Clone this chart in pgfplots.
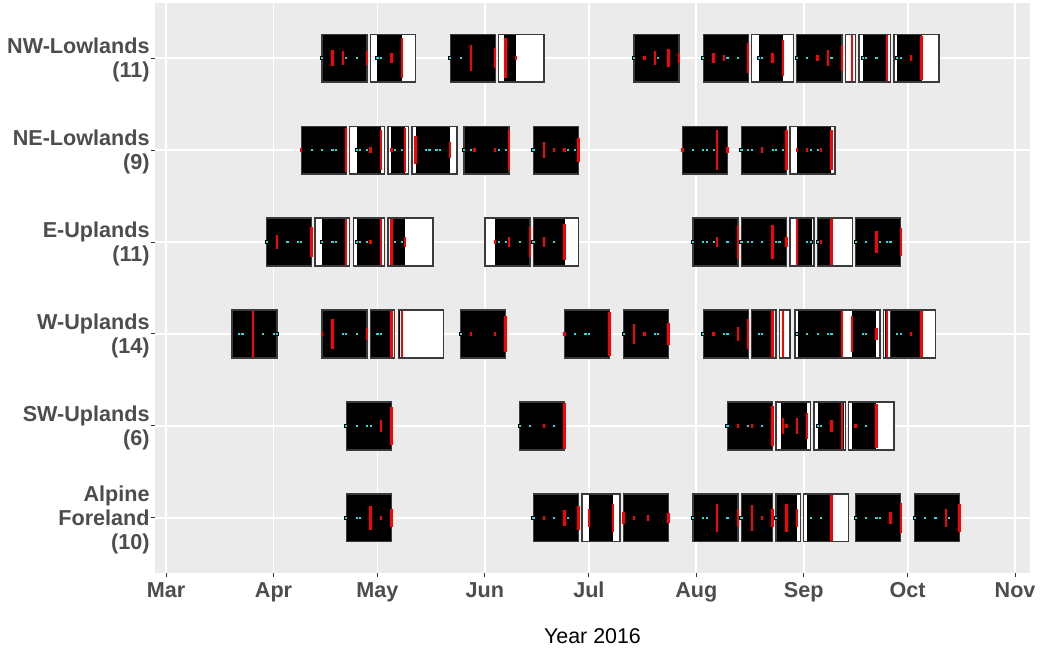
\documentclass[border=0pt]{standalone}
\usepackage{pgfplots}
\pgfplotsset{compat=1.18}
\usepackage{pgfplotstable}
\usepackage{fontspec}
\setmainfont{Liberation Sans}

\definecolor{panel}{HTML}{EBEBEB}
\definecolor{ticktext}{HTML}{4D4D4D}
\definecolor{tickmark}{HTML}{333333}
\definecolor{boxedge}{HTML}{3A3A3A}
\definecolor{dotcyan}{HTML}{19E0E0}

% x = days after 1 March 2016, y = region row (1 = Alpine Foreland ... 6 = NW-Lowlands)
% red events: e = half height of the bar
\pgfplotstableread{
x y e
48 6 0.085
51 6 0.075
58 6 0.075
65 6 0.055
68 6 0.22
88 6 0.14
95 6 0.11
98 6 0.22
101 6 0.025
138 6 0.025
141 6 0.075
145 6 0.1
148 6 0.055
158 6 0.055
161 6 0.035
168 6 0.165
175 6 0.055
178 6 0.195
188 6 0.035
191 6 0.085
195 6 0.14
198 6 0.25
208 6 0.25
215 6 0.035
218 6 0.24
39 5 0.025
52 5 0.24
59 5 0.035
62 5 0.22
65 5 0.025
69 5 0.24
72 5 0.15
82 5 0.085
89 5 0.025
95 5 0.025
99 5 0.22
109 5 0.085
112 5 0.025
115 5 0.025
119 5 0.13
149 5 0.025
159 5 0.22
162 5 0.035
172 5 0.035
179 5 0.22
182 5 0.025
185 5 0.025
189 5 0.025
192 5 0.22
32 4 0.075
42 4 0.165
52 4 0.25
59 4 0.025
62 4 0.25
65 4 0.25
69 4 0.055
95 4 0.025
99 4 0.055
105 4 0.165
109 4 0.055
115 4 0.195
159 4 0.055
165 4 0.185
175 4 0.185
179 4 0.055
182 4 0.25
189 4 0.025
192 4 0.25
205 4 0.12
212 4 0.15
25 3 0.25
45 3 0.025
48 3 0.165
58 3 0.065
65 3 0.25
68 3 0.25
88 3 0.025
95 3 0.025
98 3 0.195
115 3 0.025
128 3 0.24
135 3 0.11
138 3 0.025
145 3 0.12
158 3 0.025
165 3 0.075
168 3 0.165
175 3 0.25
178 3 0.25
195 3 0.25
198 3 0.195
205 3 0.065
208 3 0.25
215 3 0.025
218 3 0.25
62 2 0.065
65 2 0.205
109 2 0.025
115 2 0.25
165 2 0.025
169 2 0.025
175 2 0.22
178 2 0.085
179 2 0.025
182 2 0.085
185 2 0.14
192 2 0.065
195 2 0.25
199 2 0.025
205 2 0.24
59 1 0.13
62 1 0.025
65 1 0.1
109 1 0.025
115 1 0.085
119 1 0.13
122 1 0.1
129 1 0.15
132 1 0.065
135 1 0.025
139 1 0.035
145 1 0.055
159 1 0.15
165 1 0.1
169 1 0.14
172 1 0.025
175 1 0.1
179 1 0.15
182 1 0.1
192 1 0.25
209 1 0.065
212 1 0.165
225 1 0.1
229 1 0.15
}\redmarks

% cyan observation days on each row
\pgfplotstableread{
x y
45 6
52 6
55 6
61 6
62 6
82 6
85 6
135 6
142 6
155 6
162 6
165 6
171 6
172 6
182 6
185 6
192 6
201 6
202 6
205 6
211 6
212 6
42 5
45 5
48 5
49 5
55 5
56 5
58 5
66 5
68 5
75 5
76 5
78 5
79 5
86 5
88 5
96 5
98 5
106 5
116 5
118 5
152 5
155 5
156 5
158 5
166 5
168 5
169 5
175 5
176 5
178 5
186 5
188 5
29 4
35 4
38 4
39 4
45 4
48 4
49 4
55 4
56 4
58 4
66 4
68 4
96 4
98 4
102 4
106 4
112 4
152 4
155 4
156 4
158 4
162 4
166 4
168 4
169 4
172 4
176 4
177 4
185 4
186 4
188 4
199 4
202 4
206 4
208 4
209 4
21 3
22 3
28 3
31 3
32 3
51 3
52 3
55 3
61 3
62 3
85 3
118 3
121 3
122 3
132 3
141 3
142 3
155 3
161 3
162 3
171 3
172 3
182 3
185 3
188 3
191 3
192 3
201 3
202 3
211 3
212 3
52 2
55 2
58 2
59 2
102 2
105 2
112 2
162 2
168 2
172 2
188 2
189 2
202 2
52 1
55 1
56 1
106 1
112 1
116 1
152 1
155 1
156 1
162 1
166 1
176 1
186 1
189 1
199 1
202 1
205 1
206 1
216 1
219 1
222 1
226 1
}\cyandots

% one window: row, window start, window end, covered start, covered end
\newcommand\win[5]{%
  \pgfmathsetmacro\wlo{#1-0.26}%
  \pgfmathsetmacro\whi{#1+0.26}%
  \edef\wtmp{%
    \noexpand\addplot[fill=white, draw=none, forget plot]
      coordinates {(#2,\wlo) (#3,\wlo) (#3,\whi) (#2,\whi)} -- cycle;
    \noexpand\addplot[fill=black, draw=none, forget plot]
      coordinates {(#4,\wlo) (#5,\wlo) (#5,\whi) (#4,\whi)} -- cycle;
    \noexpand\addplot[draw=boxedge, line width=0.7pt, forget plot]
      coordinates {(#2,\wlo) (#3,\wlo) (#3,\whi) (#2,\whi)} -- cycle;
  }\wtmp}

\begin{document}
\begin{tikzpicture}
\useasboundingbox (-77.5pt,-38.5pt) rectangle (443pt,286.5pt);
\begin{axis}[
  at={(0,0)}, anchor=south west,
  scale only axis, width=437.5pt, height=285pt,
  xmin=-3.2, xmax=249.3, ymin=0.4, ymax=6.6,
  axis background/.style={fill=panel},
  axis line style={draw=none},
  xtick={0,31,61,92,122,153,184,214,245},
  xticklabels={Mar,Apr,May,Jun,Jul,Aug,Sep,Oct,Nov},
  minor x tick num=1,
  ytick={1,2,3,4,5,6},
  yticklabels={{Alpine\\Foreland\\(10)},{SW-Uplands\\(6)},{W-Uplands\\(14)},{E-Uplands\\(11)},{NE-Lowlands\\(9)},{NW-Lowlands\\(11)}},
  ticklabel style={font=\bfseries\fontsize{10.8}{12}\selectfont, text=ticktext},
  yticklabel style={align=right, inner sep=0.5pt, yshift=-0.75pt},
  xticklabel style={inner sep=1.5pt},
  typeset ticklabels with strut,
  xtick pos=left, ytick pos=left,
  tick align=outside,
  major tick length=2pt, minor tick length=0pt,
  tick style={tickmark, line width=0.5pt},
  xmajorgrids, xminorgrids, ymajorgrids,
  major grid style={white, line width=0.9pt},
  minor grid style={white, line width=0.45pt},
  xlabel={Year 2016},
  xlabel style={at={(axis description cs:0.5,0)}, anchor=center, yshift=-31.5pt,
    font=\fontsize{10.7}{12}\selectfont, text=black},
]
% NW-Lowlands
\win{6}{45}{58}{45}{58}
\win{6}{59}{72}{61}{68}
\win{6}{82}{95}{82}{95}
\win{6}{96}{109}{97.5}{101}
\win{6}{135}{148}{135}{148}
\win{6}{155}{168}{155}{168}
\win{6}{169}{181}{171}{178}
\win{6}{182}{195}{182}{195}
\win{6}{196}{199}{197.6}{198}
\win{6}{200}{209}{201}{208}
\win{6}{210}{223}{211}{218}
% NE-Lowlands
\win{5}{39}{52}{39}{52}
\win{5}{53}{63}{55}{62}
\win{5}{64}{70}{64.8}{69}
\win{5}{71}{84}{72}{82}
\win{5}{86}{99}{86}{99}
\win{5}{106}{119}{106}{119}
\win{5}{149}{162}{149}{162}
\win{5}{166}{179}{166}{179}
\win{5}{180}{193}{182}{192}
% E-Uplands
\win{4}{29}{42}{29}{42}
\win{4}{43}{53}{45}{52}
\win{4}{54}{63}{55}{62}
\win{4}{64}{77}{64.6}{69}
\win{4}{92}{105}{95}{105}
\win{4}{106}{119}{106}{115}
\win{4}{152}{165}{152}{165}
\win{4}{166}{179}{166}{179}
\win{4}{180}{187}{182.4}{186.3}
\win{4}{188}{198}{188}{192}
\win{4}{199}{212}{199}{212}
% W-Uplands
\win{3}{19}{32}{19}{32}
\win{3}{45}{58}{45}{58}
\win{3}{59}{66}{59}{65}
\win{3}{67}{80}{67}{67.5}
\win{3}{85}{98}{85}{98}
\win{3}{115}{128}{115}{128}
\win{3}{132}{145}{132}{145}
\win{3}{155}{168}{155}{168}
\win{3}{169}{176}{169}{175}
\win{3}{177}{180}{177.6}{178}
\win{3}{181.5}{195}{182.3}{195}
\win{3}{195}{206}{198}{205}
\win{3}{207}{209}{207.5}{208}
\win{3}{209}{222}{209}{218}
% SW-Uplands
\win{2}{52}{65}{52}{65}
\win{2}{102}{115}{102}{115}
\win{2}{162}{175}{162}{175}
\win{2}{176}{186}{177.5}{185}
\win{2}{187}{196}{188}{195.5}
\win{2}{197}{210}{198}{205}
% Alpine Foreland
\win{1}{52}{65}{52}{65}
\win{1}{106}{119}{106}{119}
\win{1}{120}{131}{122}{129}
\win{1}{132}{145}{132}{145}
\win{1}{152}{165}{152}{165}
\win{1}{166}{175}{166}{175}
\win{1}{176}{183}{176}{182}
\win{1}{184}{197}{185}{192}
\win{1}{199}{212}{199}{212}
\win{1}{216}{229}{216}{229}

\addplot[only marks, mark=square*, mark size=0.8pt,
  mark options={draw=none, fill=dotcyan}, forget plot] table[x=x, y=y] {\cyandots};
\addplot[draw=none, mark=none, forget plot,
  error bars/.cd, y dir=both, y explicit, error mark=none,
  error bar style={draw=red, line width=1.2pt}]
  table[x=x, y=y, y error=e] {\redmarks};
\end{axis}
\end{tikzpicture}
\end{document}
